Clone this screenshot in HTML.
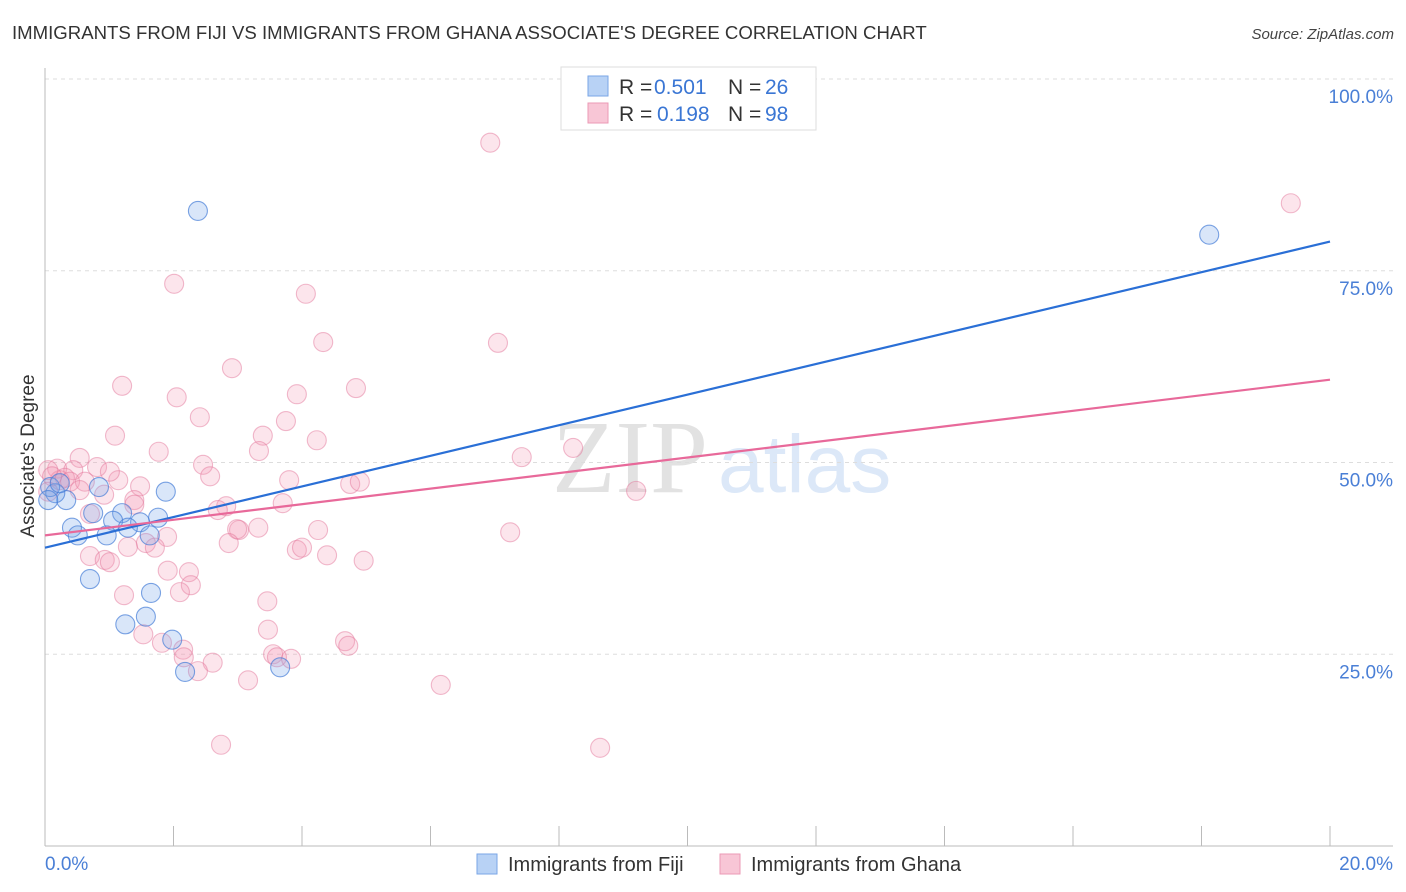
<!DOCTYPE html>
<html><head><meta charset="utf-8">
<style>
body{margin:0;background:#fff;width:1406px;height:892px;overflow:hidden;font-family:"Liberation Sans",sans-serif}
svg{display:block}
</style></head>
<body>
<svg id="chart" width="1406" height="892" xmlns="http://www.w3.org/2000/svg">
<text x="12" y="39" font-size="18.6" fill="#333">IMMIGRANTS FROM FIJI VS IMMIGRANTS FROM GHANA ASSOCIATE'S DEGREE CORRELATION CHART</text>
<text x="1394" y="39" font-size="15" fill="#444" font-style="italic" text-anchor="end">Source: ZipAtlas.com</text>
<g>
<text x="552" y="492" font-family="Liberation Serif,serif" font-size="104" fill="#e2e2e2">ZIP</text>
<text x="718" y="492" font-size="82" fill="#dce8f8">atlas</text>
</g>
<g id="grid"></g>
<line x1="45" y1="68" x2="45" y2="846" stroke="#bbb" stroke-width="1"/>
<line x1="45" y1="846" x2="1393" y2="846" stroke="#bbb" stroke-width="1"/>
<g id="xticks"></g>
<g id="ghana"></g>
<g id="fiji"></g>
<g id="trends"></g>
<text transform="translate(34,456) rotate(-90)" font-size="19" fill="#333" text-anchor="middle">Associate's Degree</text>
<text x="45" y="870" font-size="19" fill="#4a7fd6">0.0%</text>
<text x="1393" y="870" font-size="19" fill="#4a7fd6" text-anchor="end">20.0%</text>
<g>
<rect x="561" y="67" width="255" height="63" fill="#fff" stroke="#ddd"/>
<rect x="588" y="76" width="20" height="20" fill="#b8d2f5" stroke="#7aa6e6"/>
<rect x="588" y="103" width="20" height="20" fill="#f8c6d6" stroke="#eb9ab5"/>
<text x="619" y="94" font-size="21" fill="#333">R =</text>
<text x="654" y="94" font-size="21" fill="#3a76d4">0.501</text>
<text x="728" y="94" font-size="21" fill="#333">N =</text>
<text x="765" y="94" font-size="21" fill="#3a76d4">26</text>
<text x="619" y="121" font-size="21" fill="#333">R =</text>
<text x="657" y="121" font-size="21" fill="#3a76d4">0.198</text>
<text x="728" y="121" font-size="21" fill="#333">N =</text>
<text x="765" y="121" font-size="21" fill="#3a76d4">98</text>
</g>
<g>
<rect x="477" y="854" width="20" height="20" fill="#b8d2f5" stroke="#7aa6e6"/>
<text x="508" y="871" font-size="20" fill="#333">Immigrants from Fiji</text>
<rect x="720" y="854" width="20" height="20" fill="#f8c6d6" stroke="#eb9ab5"/>
<text x="751" y="871" font-size="20" fill="#333">Immigrants from Ghana</text>
</g>
</svg>
<script>
const yTicks=[25,50,75,100];
const yTickLabels=["25.0%","50.0%","75.0%","100.0%"];
const xTicks=[0,2,4,6,8,10,12,14,16,18,20];
const fijiX=[2.38,18.12,1.88,1.76,1.20,1.48,1.06,0.75,0.42,0.51,0.96,1.29,1.63,0.33,0.16,0.08,0.23,0.84,0.70,1.65,1.57,1.25,1.98,2.18,3.66,0.05];
const fijiY=[82.8,79.7,46.2,42.8,43.4,42.2,42.4,43.4,41.5,40.5,40.5,41.5,40.5,45.1,46.0,46.8,47.3,46.8,34.8,33.0,29.9,28.9,26.9,22.7,23.3,45.1];
const ghanaX=[6.93,19.39,2.01,4.06,4.33,7.05,2.91,1.20,3.92,4.84,2.05,2.41,3.75,3.39,1.09,4.23,3.33,1.77,0.54,2.46,0.81,0.19,0.44,2.57,3.80,1.14,1.48,4.75,4.90,7.42,8.22,9.20,1.39,0.92,1.39,2.82,3.70,2.69,0.70,3.02,3.32,2.99,4.25,7.24,1.90,2.86,1.57,1.29,1.71,3.92,4.00,4.39,4.96,0.70,0.93,1.01,1.91,2.24,2.27,2.10,1.23,3.46,3.47,1.53,1.82,2.15,2.16,4.67,4.72,3.55,3.61,3.83,2.61,2.38,3.16,6.16,2.74,8.64,0.23,0.31,0.39,0.62,0.05,0.11,1.01,0.54,0.05];
const ghanaY=[91.7,83.8,73.3,72.0,65.7,65.6,62.3,60.0,58.9,59.7,58.5,55.9,55.4,53.5,53.5,52.9,51.5,51.4,50.6,49.7,49.4,49.2,49.0,48.2,47.7,47.7,46.9,47.2,47.5,50.7,51.9,46.3,45.1,45.8,44.5,44.3,44.7,43.8,43.3,41.2,41.5,41.3,41.2,40.9,40.3,39.5,39.5,39.0,38.9,38.6,38.9,37.9,37.2,37.8,37.3,37.0,35.9,35.7,34.0,33.1,32.7,31.9,28.2,27.6,26.5,25.6,24.6,26.7,26.1,25.0,24.6,24.4,23.9,22.8,21.6,21.0,13.2,12.8,47.7,48.0,47.5,47.5,49.0,48.2,48.8,46.4,46.2];
const fijiTrend=[38.9,78.8];
const ghanaTrend=[40.5,60.8];
const trendX=[0,20];
const NS="http://www.w3.org/2000/svg";
const sx=v=>45+v/20*1285;
const sy=v=>846-v/100*767;
function mk(tag,attrs,parent){const e=document.createElementNS(NS,tag);for(const k in attrs)e.setAttribute(k,attrs[k]);parent.appendChild(e);return e;}
const grid=document.getElementById('grid');
yTicks.forEach((t,i)=>{
 const l=mk('line',{x1:45,x2:1393,y1:sy(t),y2:sy(t),stroke:'#ddd','stroke-dasharray':'4,4'},grid);
 
 
 const tx=mk('text',{x:1393,y:sy(t)+24,'font-size':19,fill:'#4a7fd6','text-anchor':'end'},grid);
 tx.textContent=yTickLabels[i];
 
 
});
const xt=document.getElementById('xticks');
xTicks.forEach(t=>{
 const l=mk('line',{x1:sx(t),x2:sx(t),y1:826,y2:846,stroke:'#bbb'},xt);
 
 
});
function pts(xs,ys,gid,fill,stroke,name){
 const g=document.getElementById(gid);
 xs.forEach((x,i)=>{
  const c=mk('circle',{cx:sx(x),cy:sy(ys[i]),r:9.5,fill:fill,stroke:stroke,'stroke-width':1.1},g);
  
  
 });
}
pts(ghanaX,ghanaY,'ghana','rgba(244,150,180,0.25)','rgba(228,120,155,0.5)','ghana-point');
pts(fijiX,fijiY,'fiji','rgba(120,165,235,0.28)','rgba(70,125,215,0.7)','fiji-point');
const tr=document.getElementById('trends');
const lb=mk('line',{x1:sx(trendX[0]),y1:sy(fijiTrend[0]),x2:sx(trendX[1]),y2:sy(fijiTrend[1]),stroke:'#2a6fd6','stroke-width':2.2},tr);


const lp=mk('line',{x1:sx(trendX[0]),y1:sy(ghanaTrend[0]),x2:sx(trendX[1]),y2:sy(ghanaTrend[1]),stroke:'#e8699a','stroke-width':2.2},tr);


</script>
</body></html>
